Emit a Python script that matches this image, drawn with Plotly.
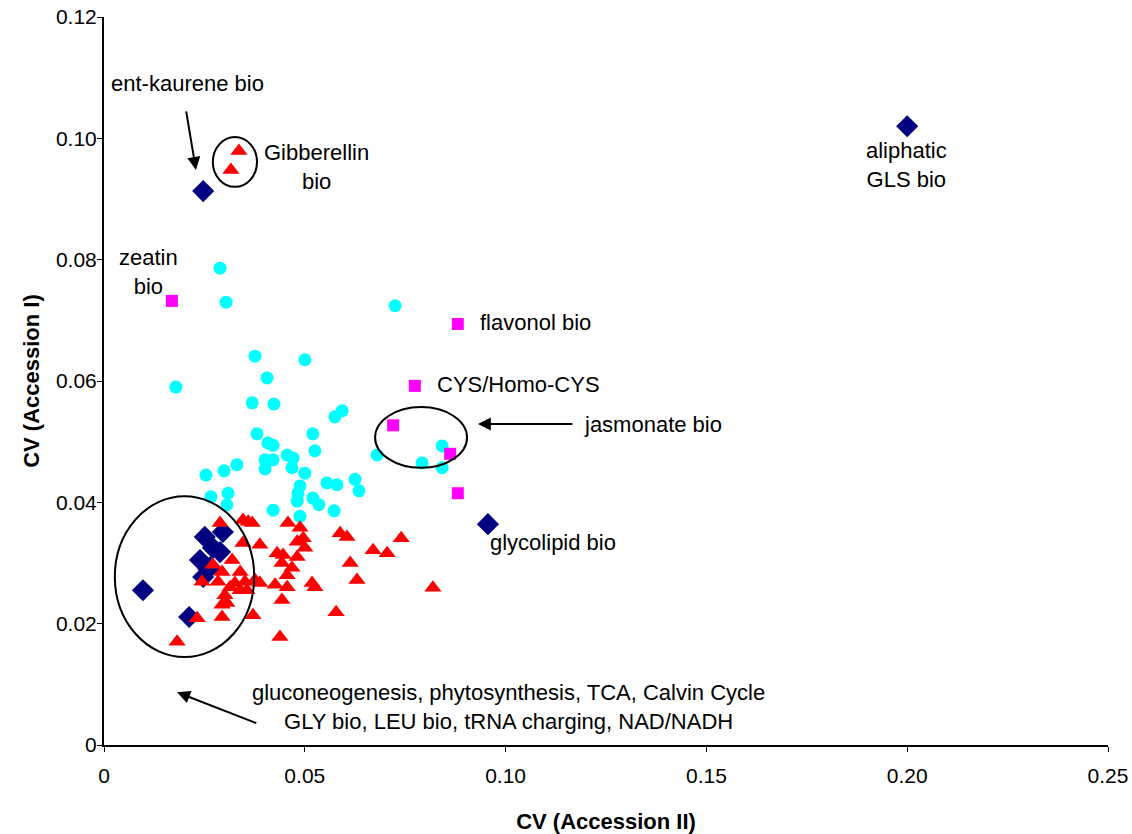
import plotly.graph_objects as go

# Blue diamonds
blue_x = [0.200, 0.0247, 0.0956, 0.0097, 0.0212, 0.0251, 0.0296, 0.0271, 0.0289, 0.0239, 0.0264, 0.0247, 0.0260]
blue_y = [0.102, 0.0913, 0.0364, 0.0255, 0.0211, 0.0343, 0.0351, 0.0325, 0.0318, 0.0305, 0.0293, 0.0277, 0.0290]

# Magenta squares
mag_x = [0.0169, 0.0881, 0.0774, 0.0720, 0.0862, 0.0881]
mag_y = [0.0732, 0.0694, 0.0592, 0.0527, 0.0480, 0.0415]

# Cyan circles
cyan_x = [0.0289, 0.0304, 0.0179, 0.0376, 0.0500, 0.0406, 0.0369, 0.0423, 0.0575, 0.0593,
          0.0381, 0.0408, 0.0421, 0.0520, 0.0525, 0.0401, 0.0421, 0.0456, 0.0471, 0.0401,
          0.0468, 0.0500, 0.0331, 0.0299, 0.0254, 0.0555, 0.0580, 0.0625, 0.0635, 0.0488,
          0.0483, 0.0481, 0.0309, 0.0266, 0.0306, 0.0520, 0.0535, 0.0421, 0.0573, 0.0488,
          0.0725, 0.0680, 0.0842, 0.0792, 0.0842]
cyan_y = [0.0786, 0.0730, 0.0590, 0.0641, 0.0635, 0.0605, 0.0564, 0.0562, 0.0541, 0.0551,
          0.0513, 0.0498, 0.0494, 0.0513, 0.0485, 0.0470, 0.0470, 0.0478, 0.0473, 0.0455,
          0.0457, 0.0448, 0.0462, 0.0452, 0.0445, 0.0432, 0.0429, 0.0438, 0.0419, 0.0427,
          0.0415, 0.0402, 0.0415, 0.0409, 0.0396, 0.0407, 0.0396, 0.0387, 0.0386, 0.0377,
          0.0724, 0.0478, 0.0493, 0.0465, 0.0457]

# Red triangles
red_x = [0.0289, 0.0346, 0.0359, 0.0369, 0.0346, 0.0388, 0.0319, 0.0271, 0.0294, 0.0339,
         0.0244, 0.0284, 0.0326, 0.0351, 0.0388, 0.0301, 0.0339, 0.0294, 0.0306, 0.0294,
         0.0371, 0.0232, 0.0182, 0.0458, 0.0488, 0.0496, 0.0481, 0.0500, 0.0431, 0.0446,
         0.0443, 0.0481, 0.0468, 0.0456, 0.0426, 0.0456, 0.0443, 0.0518, 0.0525, 0.0588,
         0.0605, 0.0670, 0.0705, 0.0740, 0.0613, 0.0630, 0.0819, 0.0578, 0.0438, 0.0314,
         0.0356, 0.0376, 0.0336, 0.0316]
red_y = [0.0366, 0.0371, 0.0368, 0.0366, 0.0333, 0.0330, 0.0305, 0.0297, 0.0285, 0.0285,
         0.0269, 0.0269, 0.0267, 0.0269, 0.0267, 0.0247, 0.0255, 0.0231, 0.0234, 0.0211,
         0.0214, 0.0209, 0.0170, 0.0366, 0.0358, 0.0341, 0.0335, 0.0325, 0.0316, 0.0313,
         0.0300, 0.0310, 0.0292, 0.0280, 0.0264, 0.0260, 0.0239, 0.0267, 0.0260, 0.0349,
         0.0343, 0.0321, 0.0316, 0.0341, 0.0300, 0.0272, 0.0259, 0.0219, 0.0178, 0.0260,
         0.0255, 0.0272, 0.0979, 0.0948]

x_ticks = [0, 0.05, 0.10, 0.15, 0.20, 0.25]
x_ticklabels = ["0", "0.05", "0.10", "0.15", "0.20", "0.25"]
y_ticks = [0, 0.02, 0.04, 0.06, 0.08, 0.10, 0.12]
y_ticklabels = ["0", "0.02", "0.04", "0.06", "0.08", "0.10", "0.12"]

FONT = "Liberation Sans, Arial, sans-serif"

fig = go.Figure()
fig.add_trace(go.Scatter(x=blue_x, y=blue_y, mode="markers",
                         marker=dict(symbol="diamond", size=17, color="#000080"), showlegend=False))
fig.add_trace(go.Scatter(x=cyan_x, y=cyan_y, mode="markers",
                         marker=dict(symbol="circle", size=13, color="#00FFFF"), showlegend=False))
fig.add_trace(go.Scatter(x=mag_x, y=mag_y, mode="markers",
                         marker=dict(symbol="square", size=12, color="#FF00FF"), showlegend=False))
fig.add_trace(go.Scatter(x=red_x, y=red_y, mode="markers",
                         marker=dict(symbol="triangle-up", size=15, color="#FF0000"), showlegend=False))

# Ellipses
for x0, x1, y0, y1 in [(0.0271, 0.0381, 0.0920, 0.1002),
                       (0.0675, 0.0904, 0.0457, 0.0557),
                       (0.0027, 0.0374, 0.0145, 0.0410)]:
    fig.add_shape(type="circle", xref="x", yref="y", x0=x0, x1=x1, y0=y0, y1=y1,
                  line=dict(color="black", width=2))

tf = dict(family=FONT, size=22, color="black")
texts = [
    ("ent-kaurene bio", 0.0209, 0.1090, "center"),
    ("Gibberellin<br>bio", 0.0530, 0.0953, "center"),
    ("aliphatic<br>GLS bio", 0.1997, 0.0956, "center"),
    ("zeatin<br>bio", 0.0112, 0.0780, "center"),
    ("flavonol bio", 0.0931, 0.0697, "left"),
    ("CYS/Homo-CYS", 0.0824, 0.0595, "left"),
    ("jasmonate bio", 0.1190, 0.0529, "left"),
    ("glycolipid bio", 0.0956, 0.0333, "left"),
    ("gluconeogenesis, phytosynthesis, TCA, Calvin Cycle<br>GLY bio, LEU bio, tRNA charging, NAD/NADH",
     0.1006, 0.0062, "center"),
]
for t, x, y, xa in texts:
    fig.add_annotation(text=t, x=x, y=y, xref="x", yref="y", showarrow=False,
                       xanchor=xa, yanchor="middle", font=tf, align="center")

# Arrows
for (xt, yt, xs, ys) in [(0.0229, 0.0948, 0.0204, 0.1047),
                         (0.0931, 0.0529, 0.1170, 0.0529),
                         (0.0182, 0.0087, 0.0383, 0.0035)]:
    fig.add_annotation(x=xt, y=yt, ax=xs, ay=ys, xref="x", yref="y", axref="x", ayref="y",
                       text="", showarrow=True, arrowhead=2, arrowsize=1.3, arrowwidth=2,
                       arrowcolor="black")

fig.update_layout(
    width=1132, height=834,
    margin=dict(l=104, r=24, t=17, b=89),
    paper_bgcolor="white", plot_bgcolor="white",
    font=dict(family=FONT, size=21, color="black"),
    xaxis=dict(range=[0, 0.25], tickvals=x_ticks, ticktext=x_ticklabels,
               showgrid=False, zeroline=False, showline=True, linecolor="black", linewidth=2,
               ticks="outside", ticklen=5, tickcolor="black", tickwidth=1,
               ticklabelstandoff=6, automargin=False,
               tickfont=dict(family=FONT, size=21),
               title=dict(text="<b>CV (Accession II)</b>", font=dict(family=FONT, size=22), standoff=27)),
    yaxis=dict(range=[0, 0.12], tickvals=y_ticks, ticktext=y_ticklabels,
               showgrid=False, zeroline=False, showline=True, linecolor="black", linewidth=2,
               ticks="outside", ticklen=5, tickcolor="black", tickwidth=1,
               ticklabelstandoff=-4, automargin=False,
               tickfont=dict(family=FONT, size=21),
               title=dict(text="<b>CV (Accession I)</b>", font=dict(family=FONT, size=22), standoff=10)),
)

fig.write_html("out.html")
